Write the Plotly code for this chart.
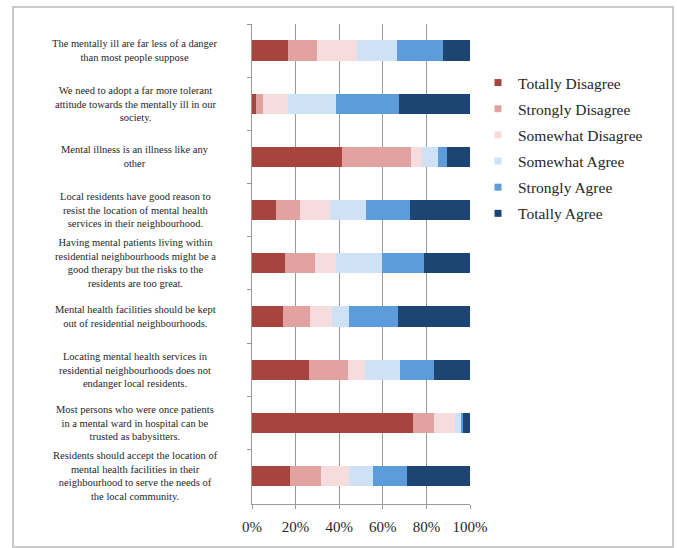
import plotly.graph_objects as go

statements = [
    "The mentally ill are far less of a danger<br>than most people suppose",
    "We need to adopt a far more tolerant<br>attitude towards the mentally ill in our<br>society.",
    "Mental illness is an illness like any<br>other",
    "Local residents have good reason to<br>resist the location of mental health<br>services in their neighbourhood.",
    "Having mental patients living within<br>residential neighbourhoods might be a<br>good therapy but the risks to the<br>residents are too great.",
    "Mental health facilities should be kept<br>out of residential neighbourhoods.",
    "Locating mental health services in<br>residential neighbourhoods does not<br>endanger local residents.",
    "Most persons who were once patients<br>in a mental ward in hospital can be<br>trusted as babysitters.",
    "Residents should accept the location of<br>mental health facilities in their<br>neighbourhood to serve the needs of<br>the local community.",
]
categories = [f"Q{i+1}" for i in range(len(statements))]

series_names = ["Totally Disagree", "Strongly Disagree", "Somewhat Disagree",
                "Somewhat Agree", "Strongly Agree", "Totally Agree"]

totally_disagree = [16.5, 2.0, 41.5, 11.0, 15.0, 14.0, 26.0, 74.0, 17.5]
strongly_disagree = [13.5, 3.0, 31.5, 11.0, 14.0, 12.5, 18.0, 9.5, 14.0]
somewhat_disagree = [18.0, 11.5, 5.0, 14.0, 9.5, 10.0, 8.0, 9.5, 13.0]
somewhat_agree = [18.5, 22.0, 7.5, 16.5, 21.0, 8.0, 16.0, 3.0, 11.0]
strongly_agree = [21.0, 29.0, 4.0, 20.0, 19.5, 22.5, 15.5, 1.0, 15.5]
totally_agree = [12.5, 32.5, 10.5, 27.5, 21.0, 33.0, 16.5, 3.0, 29.0]

x_ticks = [0, 20, 40, 60, 80, 100]
x_tick_labels = ["0%", "20%", "40%", "60%", "80%", "100%"]

colors = ["#A6443D", "#E2A2A0", "#F6DCDC", "#CFE1F4", "#5D9CDB", "#1D4573"]
series = [totally_disagree, strongly_disagree, somewhat_disagree,
          somewhat_agree, strongly_agree, totally_agree]

W, H = 677, 548
L, R, T, B = 252, 470, 24, 504
FONT = "Liberation Serif"
TXT = "#262626"

def px_x(p):
    return (p - L) / (R - L)

def px_y(p):
    return (B - p) / (B - T)

fig = go.Figure()
for name, vals, col in zip(series_names, series, colors):
    fig.add_trace(go.Bar(
        y=categories, x=vals, name=name, orientation="h",
        marker=dict(color=col, line=dict(width=0)),
        width=0.38, showlegend=False,
    ))
for i, (name, col) in enumerate(zip(series_names, colors)):
    fig.add_trace(go.Scatter(
        x=[None], y=[None], mode="markers", name=name,
        marker=dict(symbol="square", size=7, color=col),
        legendgroup=f"g{i}", showlegend=True,
    ))

for cat, text in zip(categories, statements):
    fig.add_annotation(
        x=px_x(135), xref="paper", y=cat, yref="y",
        text=text, showarrow=False, xanchor="center", yanchor="middle",
        align="center", font=dict(family=FONT, size=10.5, color=TXT),
    )

fig.add_shape(
    type="rect", xref="paper", yref="paper",
    x0=px_x(13), x1=px_x(673), y0=px_y(547), y1=px_y(7),
    line=dict(color="#c9c9c9", width=2), fillcolor="rgba(0,0,0,0)", layer="below",
)

fig.update_layout(
    width=W, height=H,
    margin=dict(l=L, r=W - R, t=T, b=H - B, pad=0),
    barmode="stack",
    paper_bgcolor="white", plot_bgcolor="white",
    font=dict(family=FONT, color=TXT),
    legend=dict(
        x=px_x(478), y=px_y(66), xanchor="left", yanchor="top",
        font=dict(family=FONT, size=15.5, color=TXT),
        traceorder="grouped", tracegroupgap=3, itemwidth=30,
        bgcolor="rgba(0,0,0,0)",
    ),
    xaxis=dict(
        range=[0, 100], tickvals=x_ticks, ticktext=x_tick_labels,
        showgrid=True, gridcolor="#9a9a9a", gridwidth=1.3,
        showline=True, linecolor="#9a9a9a", linewidth=1.3,
        ticks="outside", ticklen=4, tickcolor="#9a9a9a",
        tickfont=dict(family=FONT, size=15, color=TXT),
        ticklabelstandoff=5, zeroline=False, fixedrange=True,
    ),
    yaxis=dict(
        categoryorder="array", categoryarray=categories,
        autorange="reversed", showticklabels=False,
        showline=True, linecolor="#9a9a9a", linewidth=1.3,
        ticks="outside", ticklen=4, tickcolor="#9a9a9a", tickson="boundaries",
        showgrid=False, zeroline=False, fixedrange=True,
    ),
)

fig.write_html("out.html")
